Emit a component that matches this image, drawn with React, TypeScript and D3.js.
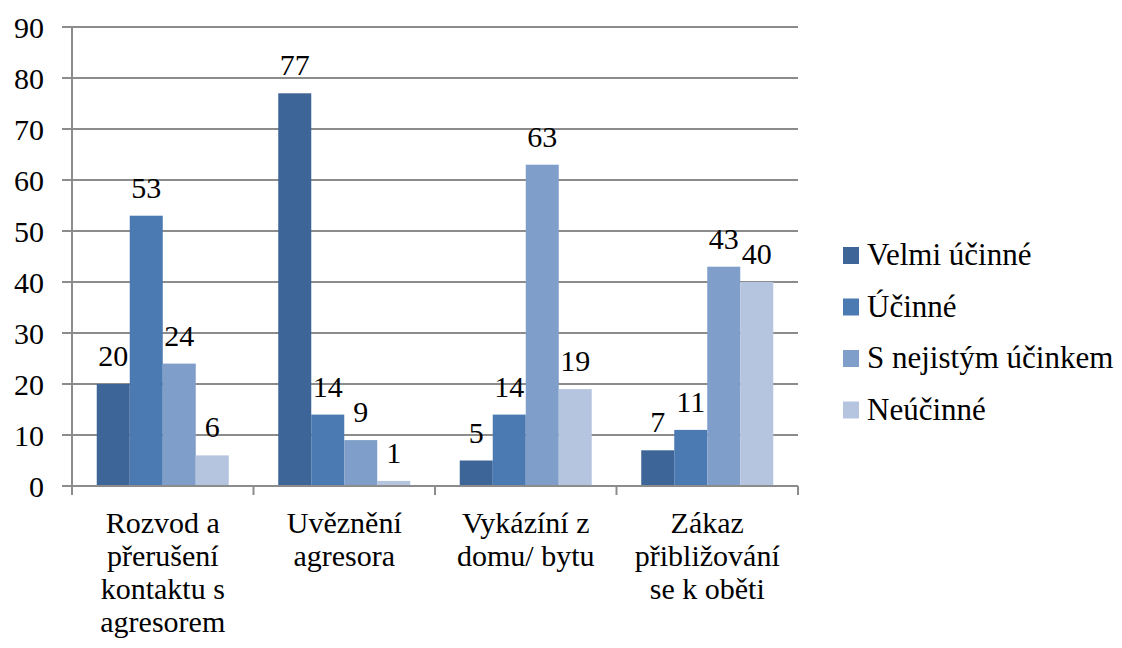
import React from "react";
import * as d3 from "d3";

// categories (multi-line labels)
const categories = [
  ["Rozvod a", "přerušení", "kontaktu s", "agresorem"],
  ["Uvěznění", "agresora"],
  ["Vykázíní z", "domu/ bytu"],
  ["Zákaz", "přibližování", "se k oběti"],
];
const seriesNames = ["Velmi účinné", "Účinné", "S nejistým účinkem", "Neúčinné"];
const velmiUcinne = [20, 77, 5, 7];
const ucinne = [53, 14, 14, 11];
const nejisty = [24, 9, 63, 43];
const neucinne = [6, 1, 19, 40];
const yTicks = [0, 10, 20, 30, 40, 50, 60, 70, 80, 90];
const colors = ["#3d6597", "#4a7ab1", "#7f9fca", "#b6c5df"];

const width = 1122;
const height = 648;
const margin = { top: 27, right: 324, bottom: 162, left: 72 };
const grid = "#8c8c8c";
const serifFont = "Times New Roman";

export default function App() {
  const series = [velmiUcinne, ucinne, nejisty, neucinne];

  // x band per category, inner band per series (gap 150%)
  const x0 = d3.scaleBand<number>()
    .domain(d3.range(categories.length))
    .range([margin.left, width - margin.right]);
  const bw = x0.bandwidth();
  const barW = bw / 5.5;
  const x1 = d3.scaleBand<number>()
    .domain(d3.range(series.length))
    .range([0.75 * barW, bw - 0.75 * barW]);

  const y = d3.scaleLinear()
    .domain([0, 90])
    .range([height - margin.bottom, margin.top]);

  const left = margin.left;
  const right = width - margin.right;
  const boundaries = d3.range(categories.length + 1).map((i) => left + i * bw);

  return (
    <svg
      width={width}
      height={height}
      fontFamily={serifFont}
      fontSize={30}
      style={{ position: "absolute", left: 0, top: 0, fontFamily: serifFont }}
    >
      {/* gridlines */}
      {yTicks.filter((t) => t > 0).map((t) => (
        <line key={"g" + t} x1={left} x2={right} y1={y(t)} y2={y(t)} stroke={grid} strokeWidth={2} />
      ))}

      {/* bars and value labels */}
      {series.map((vals, si) =>
        vals.map((v, i) => {
          const bx = x0(i)! + x1(si)!;
          return (
            <g key={`b${si}-${i}`}>
              <rect x={bx} y={y(v)} width={x1.bandwidth()} height={y(0) - y(v)} fill={colors[si]} />
              <text x={bx + x1.bandwidth() / 2} y={y(v) - 18} textAnchor="middle" fill="#000">
                {v}
              </text>
            </g>
          );
        })
      )}

      {/* y axis */}
      <line x1={left} x2={left} y1={y(0)} y2={y(90)} stroke={grid} strokeWidth={2} />
      {yTicks.map((t) => (
        <g key={"y" + t}>
          <line x1={left - 10} x2={left} y1={y(t)} y2={y(t)} stroke={grid} strokeWidth={2} />
          <text x={left - 28} y={y(t)} dy="0.35em" textAnchor="end" fill="#000">
            {t}
          </text>
        </g>
      ))}

      {/* x axis */}
      <line x1={left} x2={right} y1={y(0)} y2={y(0)} stroke={grid} strokeWidth={2} />
      {boundaries.map((b, i) => (
        <line key={"xt" + i} x1={b} x2={b} y1={y(0)} y2={y(0) + 9} stroke={grid} strokeWidth={2} />
      ))}
      {categories.map((lines, i) => (
        <text key={"c" + i} x={x0(i)! + bw / 2} y={y(0) + 47} textAnchor="middle" fill="#000">
          {lines.map((ln, j) => (
            <tspan key={j} x={x0(i)! + bw / 2} dy={j === 0 ? 0 : 33}>
              {ln}
            </tspan>
          ))}
        </text>
      ))}

      {/* legend */}
      {seriesNames.map((name, i) => (
        <g key={"l" + i} transform={`translate(843,${265 + i * 51.5})`}>
          <rect x={0} y={-18} width={16} height={17} fill={colors[i]} />
          <text x={24} y={0} fontSize={31} fill="#000">
            {name}
          </text>
        </g>
      ))}
    </svg>
  );
}
